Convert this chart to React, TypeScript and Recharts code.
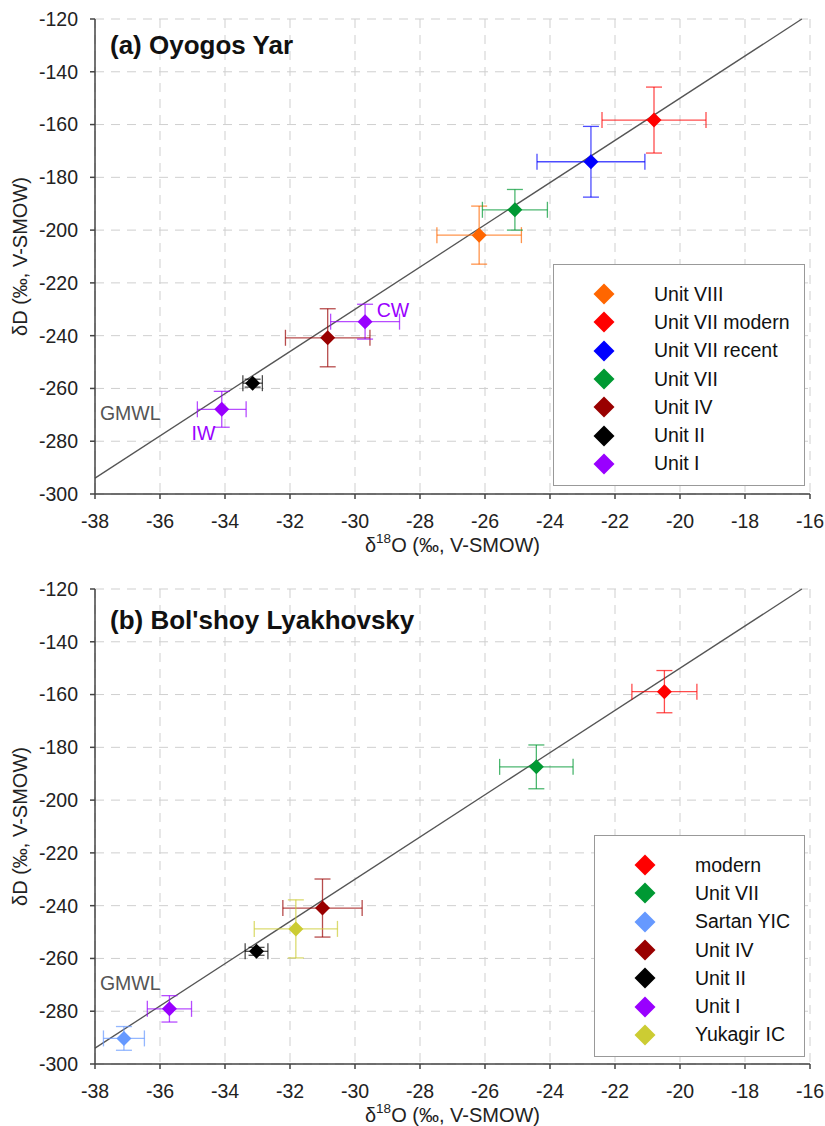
import React from "react"
import { ScatterChart, Scatter, XAxis, YAxis, CartesianGrid, ErrorBar, ReferenceLine, ReferenceDot, Legend } from "recharts"

const FONT = '"Liberation Sans", Arial, Helvetica, sans-serif'

const xTicks = [-38, -36, -34, -32, -30, -28, -26, -24, -22, -20, -18, -16]
const yTicks = [-300, -280, -260, -240, -220, -200, -180, -160, -140, -120]

// Global Meteoric Water Line: dD = 8 * d18O + 10
const gmwl = (x: number) => 8 * x + 10
const gmwlSegment = [
  { x: -38, y: gmwl(-38) },
  { x: (-120 - 10) / 8, y: -120 },
]

// (a) Oyogos Yar
const oyNames = ["Unit VIII", "Unit VII modern", "Unit VII recent", "Unit VII", "Unit IV", "Unit II", "Unit I"]
const oyColors = ["#ff6600", "#ff0000", "#0000ff", "#009933", "#990000", "#000000", "#9900ff"]
const oyUnitVIII = [{ x: -26.18, y: -201.9, ex: 1.3, ey: 11 }]
const oyUnitVIImodern = [{ x: -20.8, y: -158.3, ex: 1.6, ey: 12.5 }]
const oyUnitVIIrecent = [{ x: -22.74, y: -174.1, ex: 1.66, ey: 13.4 }]
const oyUnitVII = [{ x: -25.08, y: -192.3, ex: 1.0, ey: 7.7 }]
const oyUnitIV = [{ x: -30.84, y: -240.8, ex: 1.3, ey: 11 }]
const oyUnitII = [{ x: -33.15, y: -258, ex: 0.3, ey: 1.5 }]
const oyUnitI = [
  { x: -34.1, y: -267.9, ex: 0.75, ey: 6.8 },
  { x: -29.69, y: -234.7, ex: 1.06, ey: 6.6 },
]
const oyNotes = [
  { x: -37.85, y: -269.2, text: "GMWL", color: "#555555" },
  { x: -29.33, y: -230.3, text: "CW", color: "#9900ff" },
  { x: -35.03, y: -276.8, text: "IW", color: "#9900ff" },
]

// (b) Bol'shoy Lyakhovsky
const blNames = ["modern", "Unit VII", "Sartan YIC", "Unit IV", "Unit II", "Unit I", "Yukagir IC"]
const blColors = ["#ff0000", "#009933", "#6699ff", "#990000", "#000000", "#9900ff", "#cccc33"]
const blModern = [{ x: -20.48, y: -158.9, ex: 1.0, ey: 8 }]
const blUnitVII = [{ x: -24.42, y: -187.4, ex: 1.13, ey: 8.3 }]
const blSartan = [{ x: -37.11, y: -290.3, ex: 0.63, ey: 4.5 }]
const blUnitIV = [{ x: -31.0, y: -240.9, ex: 1.22, ey: 11 }]
const blUnitII = [{ x: -33.03, y: -257.3, ex: 0.35, ey: 1.5 }]
const blUnitI = [{ x: -35.71, y: -279.1, ex: 0.68, ey: 5 }]
const blYukagir = [{ x: -31.82, y: -248.8, ex: 1.28, ey: 11 }]
const blNotes = [{ x: -37.85, y: -269.4, text: "GMWL", color: "#555555" }]

function Diamond(props: any) {
  const { cx, cy, fill } = props
  if (cx == null || cy == null) return null
  const r = 7.5
  return <polygon points={`${cx},${cy - r} ${cx + r},${cy} ${cx},${cy + r} ${cx - r},${cy}`} fill={fill} />
}

function LegendBox({ payload, box, names }: any) {
  // keep the series order instead of recharts' alphabetical sort
  const items = [...(payload || [])].sort((a: any, b: any) => names.indexOf(a.value) - names.indexOf(b.value))
  return (
    <div
      style={{
        width: box.width,
        height: box.height,
        boxSizing: "border-box",
        border: "1px solid #999",
        background: "#fff",
        paddingTop: 15,
        fontFamily: FONT,
        fontSize: 19.5,
        color: "#111",
      }}
    >
      {items.map((e: any) => (
        <div key={e.value} style={{ display: "flex", alignItems: "center", height: 28.3 }}>
          <svg width={100} height={24} style={{ flex: "none" }}>
            <polygon points="50,1.5 60.5,12 50,22.5 39.5,12" fill={e.color} />
          </svg>
          <span style={{ whiteSpace: "nowrap" }}>{e.value}</span>
        </div>
      ))}
    </div>
  )
}

function Panel({ title, titleTop, height, bottomMargin, names, colors, series, notes, legendBox }: any) {
  const tick = { fontSize: 19.5, fill: "#222", fontFamily: FONT }
  return (
    <div style={{ position: "relative", width: 825, height }}>
      <ScatterChart width={825} height={height} margin={{ top: 19, right: 15, left: 0, bottom: bottomMargin }}>
        <CartesianGrid stroke="#cfcfcf" strokeDasharray="9 7" />
        <XAxis
          type="number"
          dataKey="x"
          domain={[-38, -16]}
          ticks={xTicks}
          allowDataOverflow
          height={56}
          tick={tick}
          tickSize={5}
          tickMargin={15}
          stroke="#444"
          strokeWidth={1.5}
          label={{
            content: (p: any) => {
              const vb = p.viewBox
              return (
                <text x={vb.x + vb.width / 2} y={vb.y + 51} textAnchor="middle" dominantBaseline="central" fontSize={20} fontFamily={FONT} fill="#222">
                  δ<tspan fontSize={13.5} dy={-7}>18</tspan>
                  <tspan dy={7}>O (‰, V-SMOW)</tspan>
                </text>
              )
            },
          }}
        />
        <YAxis
          type="number"
          dataKey="y"
          domain={[-300, -120]}
          ticks={yTicks}
          allowDataOverflow
          width={95}
          tick={tick}
          tickSize={5}
          tickMargin={12}
          stroke="#444"
          strokeWidth={1.5}
          label={{
            content: (p: any) => {
              const vb = p.viewBox
              const cy = vb.y + vb.height / 2
              return (
                <text x={20} y={cy} transform={`rotate(-90, 20, ${cy})`} textAnchor="middle" dominantBaseline="central" fontSize={20} fontFamily={FONT} fill="#222">
                  δD (‰, V-SMOW)
                </text>
              )
            },
          }}
        />
        <ReferenceLine segment={gmwlSegment} stroke="#555" strokeWidth={1.3} />
        {series.map((data: any[], i: number) => (
          <Scatter key={names[i]} name={names[i]} data={data} fill={colors[i]} shape={<Diamond />} isAnimationActive={false}>
            <ErrorBar dataKey="ex" direction="x" width={8} stroke={colors[i]} strokeOpacity={0.7} strokeWidth={1.3} />
            <ErrorBar dataKey="ey" direction="y" width={8} stroke={colors[i]} strokeOpacity={0.7} strokeWidth={1.3} />
          </Scatter>
        ))}
        {notes.map((n: any) => (
          <ReferenceDot
            key={n.text}
            x={n.x}
            y={n.y}
            r={0}
            shape={(p: any) => (
              <text x={p.cx} y={p.cy} dominantBaseline="central" fontSize={19.5} fontFamily={FONT} fill={n.color}>
                {n.text}
              </text>
            )}
          />
        ))}
        <Legend
          layout="vertical"
          align="center"
          verticalAlign="middle"
          wrapperStyle={{ position: "absolute", left: legendBox.left, top: legendBox.top, width: legendBox.width, height: legendBox.height }}
          content={(p: any) => <LegendBox payload={p.payload} box={legendBox} names={names} />}
        />
      </ScatterChart>
      <div
        style={{
          position: "absolute",
          left: 110,
          top: titleTop,
          fontFamily: FONT,
          fontWeight: "bold",
          fontSize: 26,
          color: "#111",
          whiteSpace: "nowrap",
          lineHeight: "30px",
        }}
      >
        {title}
      </div>
    </div>
  )
}

export default function App() {
  return (
    <div style={{ position: "absolute", left: 0, top: 0, width: 825, height: 1126, background: "#fff" }}>
      <Panel
        title="(a) Oyogos Yar"
        titleTop={30}
        height={570}
        bottomMargin={20}
        names={oyNames}
        colors={oyColors}
        series={[oyUnitVIII, oyUnitVIImodern, oyUnitVIIrecent, oyUnitVII, oyUnitIV, oyUnitII, oyUnitI]}
        notes={oyNotes}
        legendBox={{ left: 553, top: 264, width: 252, height: 222 }}
      />
      <Panel
        title="(b) Bol'shoy Lyakhovsky"
        titleTop={35}
        height={556}
        bottomMargin={6}
        names={blNames}
        colors={blColors}
        series={[blModern, blUnitVII, blSartan, blUnitIV, blUnitII, blUnitI, blYukagir]}
        notes={blNotes}
        legendBox={{ left: 594, top: 265, width: 211, height: 222 }}
      />
    </div>
  )
}
